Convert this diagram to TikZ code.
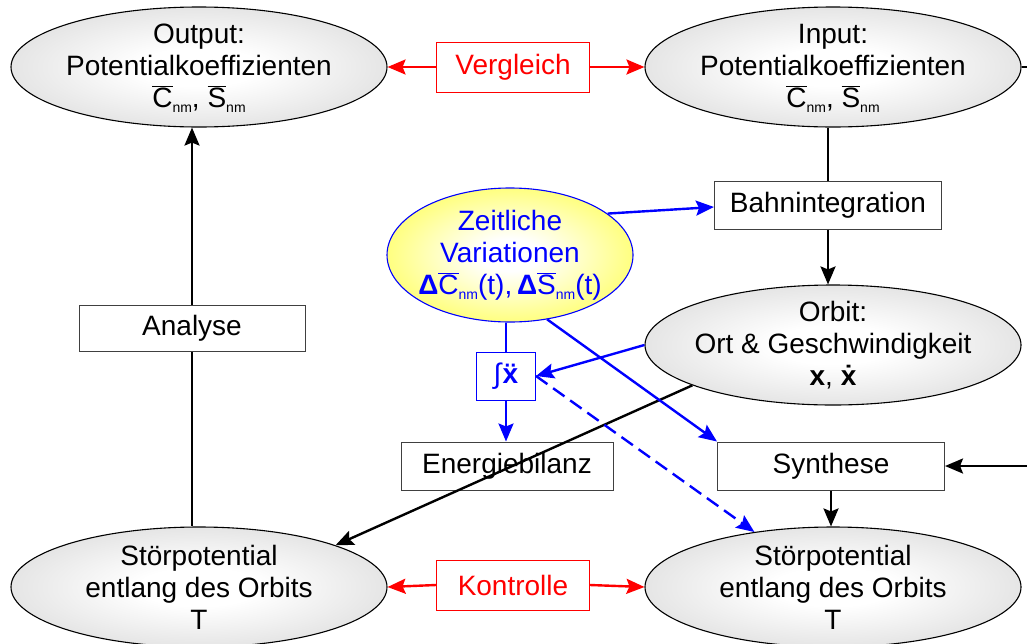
\documentclass[tikz,border=0pt]{standalone}
\usepackage{fontspec}
\setmainfont{Liberation Sans}
\usetikzlibrary{shapes.geometric,arrows.meta}
\newcommand\ovl[1]{\ensuremath{\overline{\mbox{#1}}}}
\newcommand\subnm{\raisebox{-5pt}{\fontsize{14}{14}\selectfont nm}}
\pgfdeclareradialshading{ellgray}{\pgfpoint{0bp}{0bp}}{color(0bp)=(white); color(8bp)=(white); color(50bp)=(black!25)}
\pgfdeclareradialshading{ellyell}{\pgfpoint{0bp}{0bp}}{color(0bp)=(white); color(6bp)=(white); color(44bp)=(yellow); color(50bp)=(yellow)}
\begin{document}
\begin{tikzpicture}[x=1pt,y=-1pt,
  txt/.style={font=\fontsize{28}{32}\selectfont, align=center, inner sep=0pt},
  grayell/.style={ellipse, draw=black, line width=1.1pt, minimum width=376pt, minimum height=120pt, inner sep=0pt, shading=ellgray},
  yellell/.style={ellipse, draw=blue, line width=1.1pt, minimum width=246pt, minimum height=134pt, inner sep=0pt, shading=ellyell},
  box/.style={draw=black!75, line width=1pt, fill=white, minimum height=48pt, inner sep=0pt, font=\fontsize{28}{32}\selectfont},
  redbox/.style={box, draw=red, text=red, minimum width=153pt, minimum height=50pt},
  ln/.style={line width=2.4pt, black},
  arr/.style={ln, -{Stealth[length=18pt,width=15pt,inset=3pt]}},
  rarr/.style={line width=2.4pt, red, -{Stealth[length=18pt,width=15pt,inset=3pt]}},
  barr/.style={line width=2.4pt, blue, -{Stealth[length=18pt,width=15pt,inset=3pt]}},
  bln/.style={line width=2.4pt, blue}
]
\useasboundingbox (0,0) rectangle (1027,643);
\clip (0,0) rectangle (1027,643);

% ellipses
\node[grayell] (out) at (199,67) {};
\node[txt] at (199,68) {Output:\\Potentialkoeffizienten\\\ovl{C}\subnm, \ovl{S}\subnm};
\node[grayell] (inp) at (833,67) {};
\node[txt] at (833,68) {Input:\\Potentialkoeffizienten\\\ovl{C}\subnm, \ovl{S}\subnm};
\node[yellell] (zeit) at (510,255) {};
\node[txt, text=blue] at (510,255) {Zeitliche\\Variationen\\\textbf{Δ}\ovl{C}\subnm(t),\,\textbf{Δ}\ovl{S}\subnm(t)};
\node[grayell] (orb) at (833,345) {};
\node[txt] at (833,345) {Orbit:\\Ort \& Geschwindigkeit\\\textbf{x}, \textbf{ẋ}};
\node[grayell] (stl) at (199,587) {};
\node[txt] at (199,587) {Störpotential\\entlang des Orbits\\T};
\node[grayell] (str) at (833,587) {};
\node[txt] at (833,587) {Störpotential\\entlang des Orbits\\T};

% boxes
\node[redbox] (verg) at (513,67) {Vergleich};
\node[redbox] (kont) at (513,585) {Kontrolle};
\node[box, minimum width=227pt] (bahn) at (828,205) {Bahnintegration};
\node[box, minimum width=226pt, minimum height=46pt] (ana) at (192,328) {Analyse};
\node[box, minimum width=212pt] (ener) at (507,466) {Energiebilanz};
\node[box, minimum width=227pt] (syn) at (831,466) {Synthese};
\node[box, draw=blue, text=blue, minimum width=59pt] (int) at (506,376) {∫\textbf{ẍ}};

% connectors
\draw[rarr] (verg.west) -- (out.east);
\draw[rarr] (verg.east) -- (inp.west);
\draw[rarr] (kont.west) -- (stl.east);
\draw[rarr] (kont.east) -- (str.west);

\draw[ln] (inp.south -| bahn) -- (bahn.north);
\draw[arr] (bahn.south) -- (orb.north -| bahn);
\draw[ln] (inp.east) -- (1050,67) -- (1050,466);
\draw[arr] (1050,466) -- (syn.east);
\draw[arr] (syn.south) -- (str.north -| syn);
\draw[ln] (stl.north -| ana) -- (ana.south);
\draw[arr] (ana.north) -- (out.south -| ana);
\draw[arr] (orb.196) -- (stl.17);

\draw[barr] (zeit.23) -- (bahn.west |- 0,207);
\draw[bln] (zeit.south -| int) -- (int.north);
\draw[barr] (int.south) -- (ener.north -| int);
\draw[barr] (orb.west) -- (int.east);
\draw[barr] (zeit.300) -- (syn.north west);
\draw[barr, dashed, dash pattern=on 14pt off 7pt] (int.east) -- (str.145);
\end{tikzpicture}
\end{document}
